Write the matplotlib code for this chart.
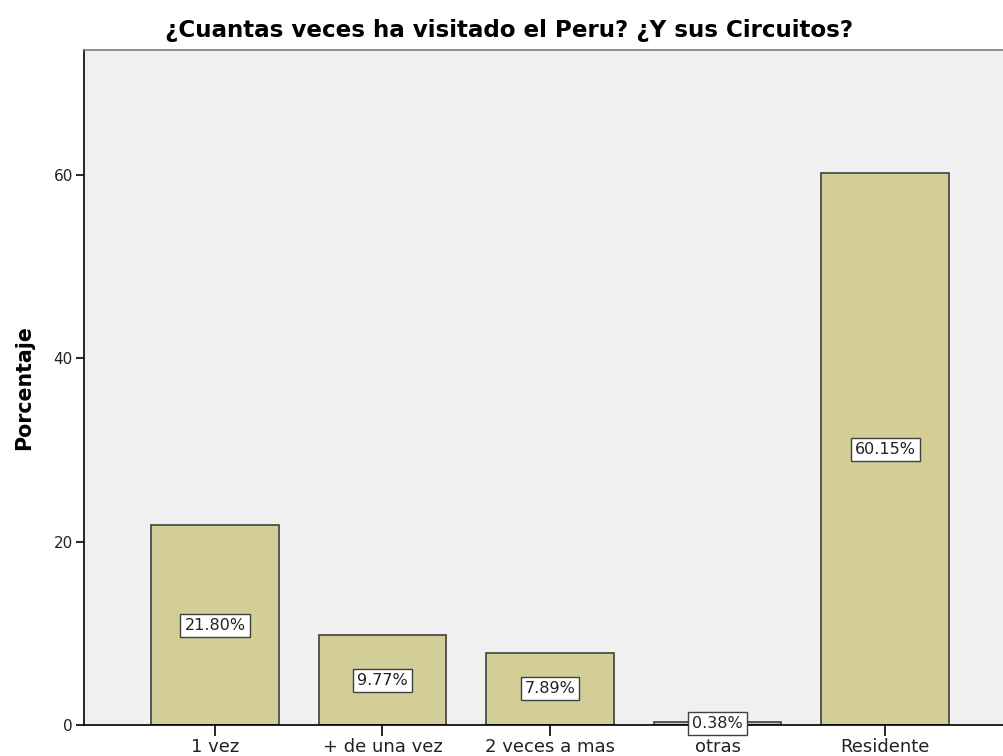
import numpy as np
import matplotlib.pyplot as plt

plt.rcParams['font.family'] = ['DejaVu Sans']

categorias = ['1 vez', '+ de una vez', '2 veces a mas', 'otras', 'Residente']
porcentajes = [21.80, 9.77, 7.89, 0.38, 60.15]
etiquetas = ['21.80%', '9.77%', '7.89%', '0.38%', '60.15%']
yticks = [0, 20, 40, 60]

W, H = 1004, 756
fig = plt.figure(figsize=(W / 100, H / 100), dpi=100)
# plot area runs a little past the right edge of the picture, as in the reference
left, right, top, bottom = 84, 1016, 50, 725
ax = fig.add_axes([left / W, 1 - bottom / H, (right - left) / W, (bottom - top) / H])
ax.set_facecolor('#f0f0f0')

x = np.arange(len(categorias))
ax.bar(x, porcentajes, width=0.76, color='#d3ce98', edgecolor='#404040', linewidth=1.2, zorder=2)

for xi, v, t in zip(x, porcentajes, etiquetas):
    ax.text(xi, v / 2, t, ha='center', va='center', fontsize=11.5, color='#222222', zorder=3,
            bbox=dict(boxstyle='square,pad=0.25', facecolor='white', edgecolor='#404040', linewidth=1.0))

ax.set_xlim(-0.782, 4.782)
ax.set_ylim(0, 73.6)
ax.set_xticks(x)
ax.set_xticklabels(categorias, fontsize=13, color='#222222')
ax.set_yticks(yticks)
ax.set_yticklabels([str(v) for v in yticks], fontsize=11, color='#222222')
ax.tick_params(axis='x', length=8, width=1.2, color='black', pad=1)
ax.tick_params(axis='y', length=6, width=1.2, color='black', pad=2)

ax.spines['left'].set_color('black')
ax.spines['left'].set_linewidth(1.2)
ax.spines['bottom'].set_color('black')
ax.spines['bottom'].set_linewidth(1.2)
ax.spines['top'].set_color('#808080')
ax.spines['top'].set_linewidth(1.2)
ax.spines['right'].set_visible(False)

fig.text(24 / W, 1 - 388 / H, 'Porcentaje', rotation=90, ha='center', va='center',
         fontsize=14.8, fontweight='bold')
fig.text(509 / W, 1 - 31 / H, '¿Cuantas veces ha visitado el Peru? ¿Y sus Circuitos?',
         ha='center', va='center', fontsize=16.6, fontweight='bold')

fig.savefig('out.png', dpi=100)
